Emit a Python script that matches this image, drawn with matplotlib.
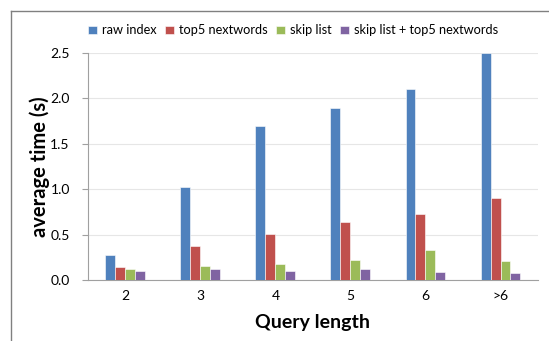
import matplotlib.pyplot as plt
import numpy as np
from matplotlib.lines import Line2D

plt.rcParams['font.family'] = ['Lato', 'DejaVu Sans']

# Query lengths and average times (s) per method
categories = ["2", "3", "4", "5", "6", ">6"]
raw_index = [0.27, 1.02, 1.69, 1.89, 2.10, 2.50]
top5_nextwords = [0.14, 0.37, 0.51, 0.635, 0.73, 0.90]
skip_list = [0.12, 0.15, 0.18, 0.22, 0.33, 0.205]
skip_top5 = [0.10, 0.12, 0.10, 0.12, 0.09, 0.075]

series = [
    ("raw index", raw_index, "#4F81BD"),
    ("top5 nextwords", top5_nextwords, "#C0504D"),
    ("skip list", skip_list, "#9BBB59"),
    ("skip list + top5 nextwords", skip_top5, "#8064A2"),
]

fig = plt.figure(figsize=(5.49, 3.41), dpi=100)
ax = fig.add_axes([0.160, 0.179, 0.820, 0.666])

x = np.arange(len(categories))
w = 0.133
for i, (name, vals, col) in enumerate(series):
    ax.bar(x + (i - 1.5) * w, vals, width=w, color=col, label=name,
           edgecolor="white", linewidth=0.4, zorder=3)

ax.set_xlim(-0.5, len(categories) - 0.5)
ax.set_ylim(0, 2.5)
ax.set_yticks(np.arange(0, 2.51, 0.5))
ax.set_yticklabels([f"{v:.1f}" for v in np.arange(0, 2.51, 0.5)])
ax.set_xticks(x)
ax.set_xticklabels(categories)
ax.grid(axis="y", color="#E6E6E6", linewidth=0.8, zorder=0)

for s in ["top", "right"]:
    ax.spines[s].set_visible(False)
ax.spines["left"].set_color("#A0A0A0")
ax.spines["bottom"].set_color("#A0A0A0")
ax.tick_params(axis="y", length=4, color="#A0A0A0", labelsize=10, pad=9)
ax.tick_params(axis="x", length=0, labelsize=10, pad=7)

ax.set_ylabel("average time (s)", fontsize=14.5, fontweight="bold", labelpad=0)
ax.set_xlabel("Query length", fontsize=14, fontweight="bold", labelpad=9)

ax.legend(loc="lower left", bbox_to_anchor=(-0.01, 1.05), ncol=4, frameon=False,
          fontsize=9.2, handlelength=0.65, handleheight=0.65, handletextpad=0.4,
          columnspacing=0.7, borderaxespad=0)

# chart area border (left and top only visible)
fig.add_artist(Line2D([0.020, 0.020], [0, 0.968], color="#808080", linewidth=1,
                      transform=fig.transFigure))
fig.add_artist(Line2D([0.020, 1.0], [0.968, 0.968], color="#808080", linewidth=1,
                      transform=fig.transFigure))

fig.savefig("out.png", dpi=100)
